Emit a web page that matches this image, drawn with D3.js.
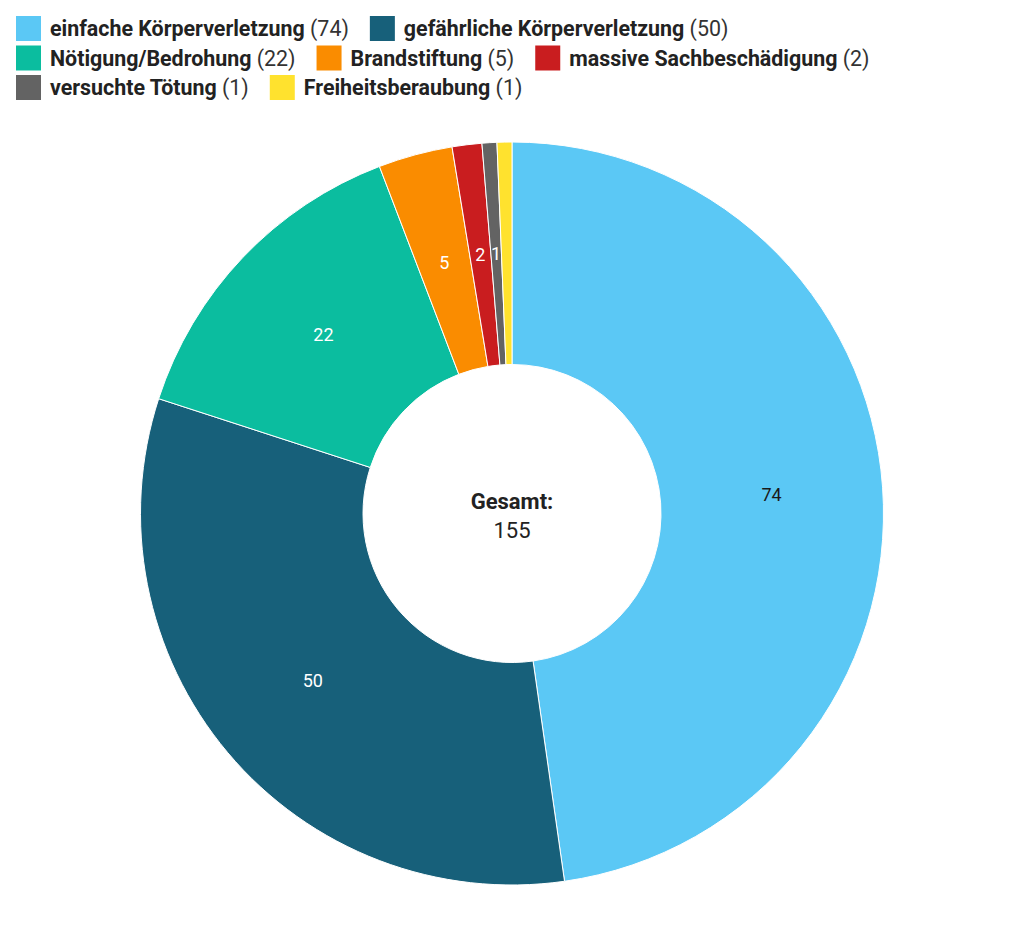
<!DOCTYPE html>
<html><head><meta charset="utf-8">
<script src="https://cdn.jsdelivr.net/npm/d3@7"></script>
<style>
body{margin:0;background:#fff;font-family:Roboto,"Noto Sans",sans-serif;}
svg{display:block;}
</style></head>
<body>
<svg id="chart" width="1024" height="935"></svg>
<script>
const categories = ["einfache Körperverletzung","gefährliche Körperverletzung","Nötigung/Bedrohung","Brandstiftung","massive Sachbeschädigung","versuchte Tötung","Freiheitsberaubung"];
const values = [74,50,22,5,2,1,1];
const colors = ["#5bc8f5","#17607a","#0bbd9f","#fa8c00","#c91d1f","#636363","#ffe22e"];
const labelColors = ["#1a1a1a","#fff","#fff","#fff","#fff","#fff",null];
const totalLabel = "Gesamt:";

const svg = d3.select("#chart");
const data = categories.map((c,i)=>({name:c,value:values[i],color:colors[i],lc:labelColors[i]}));
const total = d3.sum(values);

// legend (flow layout)
const lg = svg.append("g").attr("font-size",21.4).attr("fill","#222");
let x = 16, y = 16; const rowH = 29.5, maxW = 1008;
data.forEach(d=>{
  const t = lg.append("text").attr("y",0);
  t.append("tspan").attr("font-weight","bold").text(d.name);
  t.append("tspan").attr("fill","#333").text(" (" + d.value + ")");
  const w = t.node().getComputedTextLength();
  const itemW = 34 + w;
  if (x + itemW > maxW) { x = 16; y += rowH; }
  lg.append("rect").attr("x",x).attr("y",y).attr("width",25).attr("height",25).attr("fill",d.color);
  t.attr("x",x+34).attr("y",y+20);
  x += itemW + 21;
});

// donut
const cx = 512, cy = 513.5, R = 371.5, r0 = 149;
const pie = d3.pie().value(d=>d.value).sort(null);
const arc = d3.arc().innerRadius(r0).outerRadius(R);
const g = svg.append("g").attr("transform",`translate(${cx},${cy})`);
const arcs = pie(data);
g.selectAll("path").data(arcs).join("path")
  .attr("d",arc).attr("fill",d=>d.data.color)
  .attr("stroke","#fff").attr("stroke-width",1);
g.selectAll("text.lbl").data(arcs.filter(d=>d.data.lc)).join("text")
  .attr("class","lbl")
  .attr("transform",d=>`translate(${arc.centroid(d)})`)
  .attr("text-anchor","middle").attr("dy","0.35em")
  .attr("font-size",18).attr("fill",d=>d.data.lc)
  .text(d=>d.data.value);
g.append("text").attr("text-anchor","middle").attr("y",-5)
  .attr("font-size",22).attr("font-weight","bold").attr("fill","#222").text(totalLabel);
g.append("text").attr("text-anchor","middle").attr("y",24)
  .attr("font-size",22).attr("fill","#222").text(total);
</script>
</body></html>
